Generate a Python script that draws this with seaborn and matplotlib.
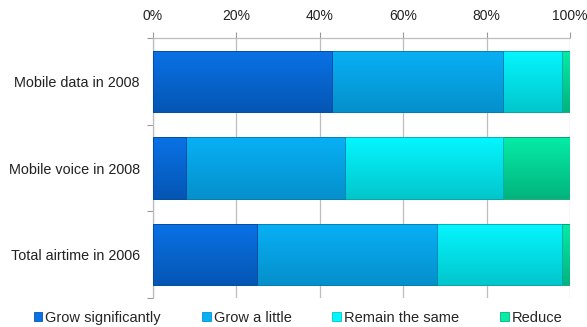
import numpy as np
import pandas as pd
import matplotlib
matplotlib.use("Agg")
import matplotlib.pyplot as plt
import matplotlib.colors as mcolors
from matplotlib.patches import Patch
import seaborn as sns

categories = ["Mobile data in 2008", "Mobile voice in 2008", "Total airtime in 2006"]
series = ["Grow significantly", "Grow a little", "Remain the same", "Reduce"]
grow_significantly = [43, 8, 25]
grow_a_little = [41, 38, 43]
remain_the_same = [14, 38, 30]
reduce = [2, 16, 2]
tick_labels = ["0%", "20%", "40%", "60%", "80%", "100%"]

# top / bottom shades of each series' vertical gradient
shades = {
    "Grow significantly": ("#0a72e6", "#0556b4"),
    "Grow a little": ("#08b0f6", "#0590cc"),
    "Remain the same": ("#05f6ff", "#02c6cc"),
    "Reduce": ("#05eca6", "#02b47e"),
}

sns.set_theme(style="white")
plt.rcParams["font.family"] = ["Liberation Sans", "DejaVu Sans"]

values = {
    "Grow significantly": grow_significantly,
    "Grow a little": grow_a_little,
    "Remain the same": remain_the_same,
    "Reduce": reduce,
}
df = pd.DataFrame(values, index=categories)
cum = df.cumsum(axis=1)

fig = plt.figure(figsize=(5.87, 3.27), dpi=100)
ax = fig.add_axes([153 / 587, 1 - 298 / 327, 417 / 587, 260 / 327])

# stacked bars: draw cumulative totals from the outermost segment inward
for i, name in enumerate(reversed(series)):
    d = pd.DataFrame({"category": categories, "total": cum[name].values})
    top, bottom = shades[name]
    sns.barplot(data=d, x="total", y="category", order=categories, ax=ax,
                color=top, width=0.71, orient="h", saturation=1,
                edgecolor=mcolors.to_hex(np.array(mcolors.to_rgb(bottom)) * 0.85),
                linewidth=0.6, zorder=2 + i)

# vertical gradient fill clipped to each bar
n = len(categories)
for k, patch in enumerate(ax.patches):
    name = list(reversed(series))[k // n]
    top, bottom = shades[name]
    c1 = np.array(mcolors.to_rgb(top))
    c2 = np.array(mcolors.to_rgb(bottom))
    t = np.linspace(0, 1, 64)[:, None]
    grad = (c1 * (1 - t) + c2 * t)[:, None, :]
    x0, y0 = patch.get_x(), patch.get_y()
    w, h = patch.get_width(), patch.get_height()
    im = ax.imshow(grad, extent=(x0, x0 + w, y0 + h, y0), aspect="auto",
                   zorder=patch.get_zorder() + 0.1, interpolation="bilinear")
    im.set_clip_path(patch)
    patch.set_zorder(patch.get_zorder() + 0.2)
    patch.set_facecolor("none")

ax.set_xlim(0, 100)
ax.set_ylim(2.5, -0.5)
ax.set_xlabel("")
ax.set_ylabel("")

ax.xaxis.tick_top()
ax.set_xticks(np.arange(0, 101, 20))
ax.set_xticklabels(tick_labels, fontsize=10, color="#222222")
ax.tick_params(axis="x", direction="out", length=4, width=0.8, color="#9a9a9a", pad=6.5)
ax.grid(axis="x", color="#bdbdbd", linewidth=0.9, zorder=0)
ax.set_axisbelow(True)

ax.set_yticks(range(n))
ax.set_yticklabels(categories, fontsize=10.4, color="#222222")
ax.tick_params(axis="y", which="major", length=0, pad=9.5)
ax.set_yticks([-0.5, 0.5, 1.5, 2.5], minor=True)
ax.tick_params(axis="y", which="minor", direction="out", length=4, width=0.8,
               color="#9a9a9a", left=True)

for side in ["right", "bottom"]:
    ax.spines[side].set_visible(False)
for side in ["top", "left"]:
    ax.spines[side].set_color("#bdbdbd")
    ax.spines[side].set_linewidth(0.9)

handles = [Patch(facecolor=shades[s][0], edgecolor=shades[s][1], linewidth=0.6)
           for s in series]
fig.legend(handles, series, loc="center", bbox_to_anchor=(298 / 587, 1 - 318 / 327),
           ncol=4, frameon=False, fontsize=10.5, handlelength=0.6, handleheight=0.6,
           handletextpad=0.2, columnspacing=2.8)

fig.savefig("out.png", dpi=100)
